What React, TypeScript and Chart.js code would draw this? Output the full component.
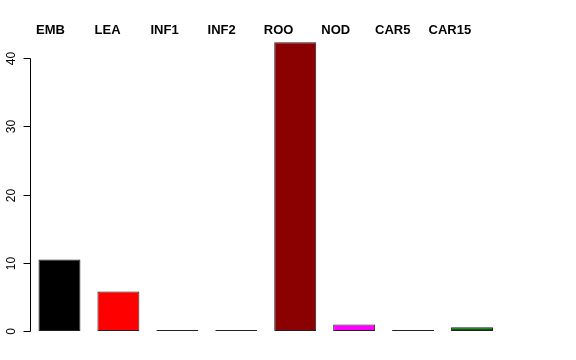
import React, { useEffect, useRef } from "react";
import { Chart, registerables } from "chart.js";

Chart.register(...registerables);

const categories = ["EMB", "LEA", "INF1", "INF2", "ROO", "NOD", "CAR5", "CAR15"];
const values = [10.5, 5.8, 0.15, 0.15, 42.35, 0.95, 0.15, 0.55];
const barColors = ["#000000", "#FF0000", "#1E3A1E", "#14141E", "#8B0000", "#FF00FF", "#3A3A4A", "#006400"];
const yTicks = [0, 10, 20, 30, 40];

const rAxisPlugin = {
  id: "rAxis",
  afterDraw(chart: any) {
    const ctx = chart.ctx;
    const y = chart.scales.y;
    const x = chart.scales.x;
    const area = chart.chartArea;
    ctx.save();
    ctx.strokeStyle = "#000";
    ctx.lineWidth = 1;
    const ax = Math.round(area.left) + 0.5;
    const yTop = Math.round(y.getPixelForValue(yTicks[yTicks.length - 1])) + 0.5;
    const yBot = Math.round(y.getPixelForValue(yTicks[0])) + 0.5;
    ctx.beginPath();
    ctx.moveTo(ax, yTop);
    ctx.lineTo(ax, yBot);
    ctx.stroke();
    ctx.font = "12px 'Liberation Sans', Arial, sans-serif";
    ctx.fillStyle = "#000";
    ctx.textAlign = "center";
    ctx.textBaseline = "alphabetic";
    yTicks.forEach((t) => {
      const py = Math.round(y.getPixelForValue(t)) + 0.5;
      ctx.beginPath();
      ctx.moveTo(ax - 7, py);
      ctx.lineTo(ax, py);
      ctx.stroke();
      ctx.save();
      ctx.translate(ax - 16, py);
      ctx.rotate(-Math.PI / 2);
      ctx.fillText(String(t), 0, 0);
      ctx.restore();
    });
    ctx.font = "bold 13px 'Liberation Sans', Arial, sans-serif";
    ctx.textAlign = "center";
    ctx.textBaseline = "alphabetic";
    const step = (x.getPixelForValue(1) - x.getPixelForValue(0)) * 0.968;
    const start = x.getPixelForValue(0) - 9;
    categories.forEach((c, i) => {
      ctx.fillText(c, start + i * step, 34);
    });
    ctx.restore();
  },
};

export default function App() {
  const ref = useRef<HTMLCanvasElement>(null);
  useEffect(() => {
    if (!ref.current) return;
    const chart = new Chart(ref.current, {
      type: "bar",
      data: {
        labels: categories,
        datasets: [
          {
            data: values,
            backgroundColor: barColors,
            borderColor: "#222",
            borderWidth: 1,
            borderSkipped: false,
            barPercentage: 0.712,
            categoryPercentage: 1,
          },
        ],
      },
      options: {
        animation: false,
        responsive: false,
        maintainAspectRatio: false,
        layout: { padding: { left: 30, right: 74.5, top: 31, bottom: 29 } },
        plugins: { legend: { display: false }, tooltip: { enabled: false } },
        scales: {
          x: { display: false, offset: true, grid: { display: false } },
          y: { display: false, min: 0, max: 44, grid: { display: false } },
        },
      },
      plugins: [rAxisPlugin],
    });
    return () => chart.destroy();
  }, []);
  return (
    <div style={{ position: "fixed", left: 0, top: 0, width: 576, height: 360, background: "#fff" }}>
      <canvas ref={ref} width={576} height={360} style={{ width: 576, height: 360 }} />
    </div>
  );
}
